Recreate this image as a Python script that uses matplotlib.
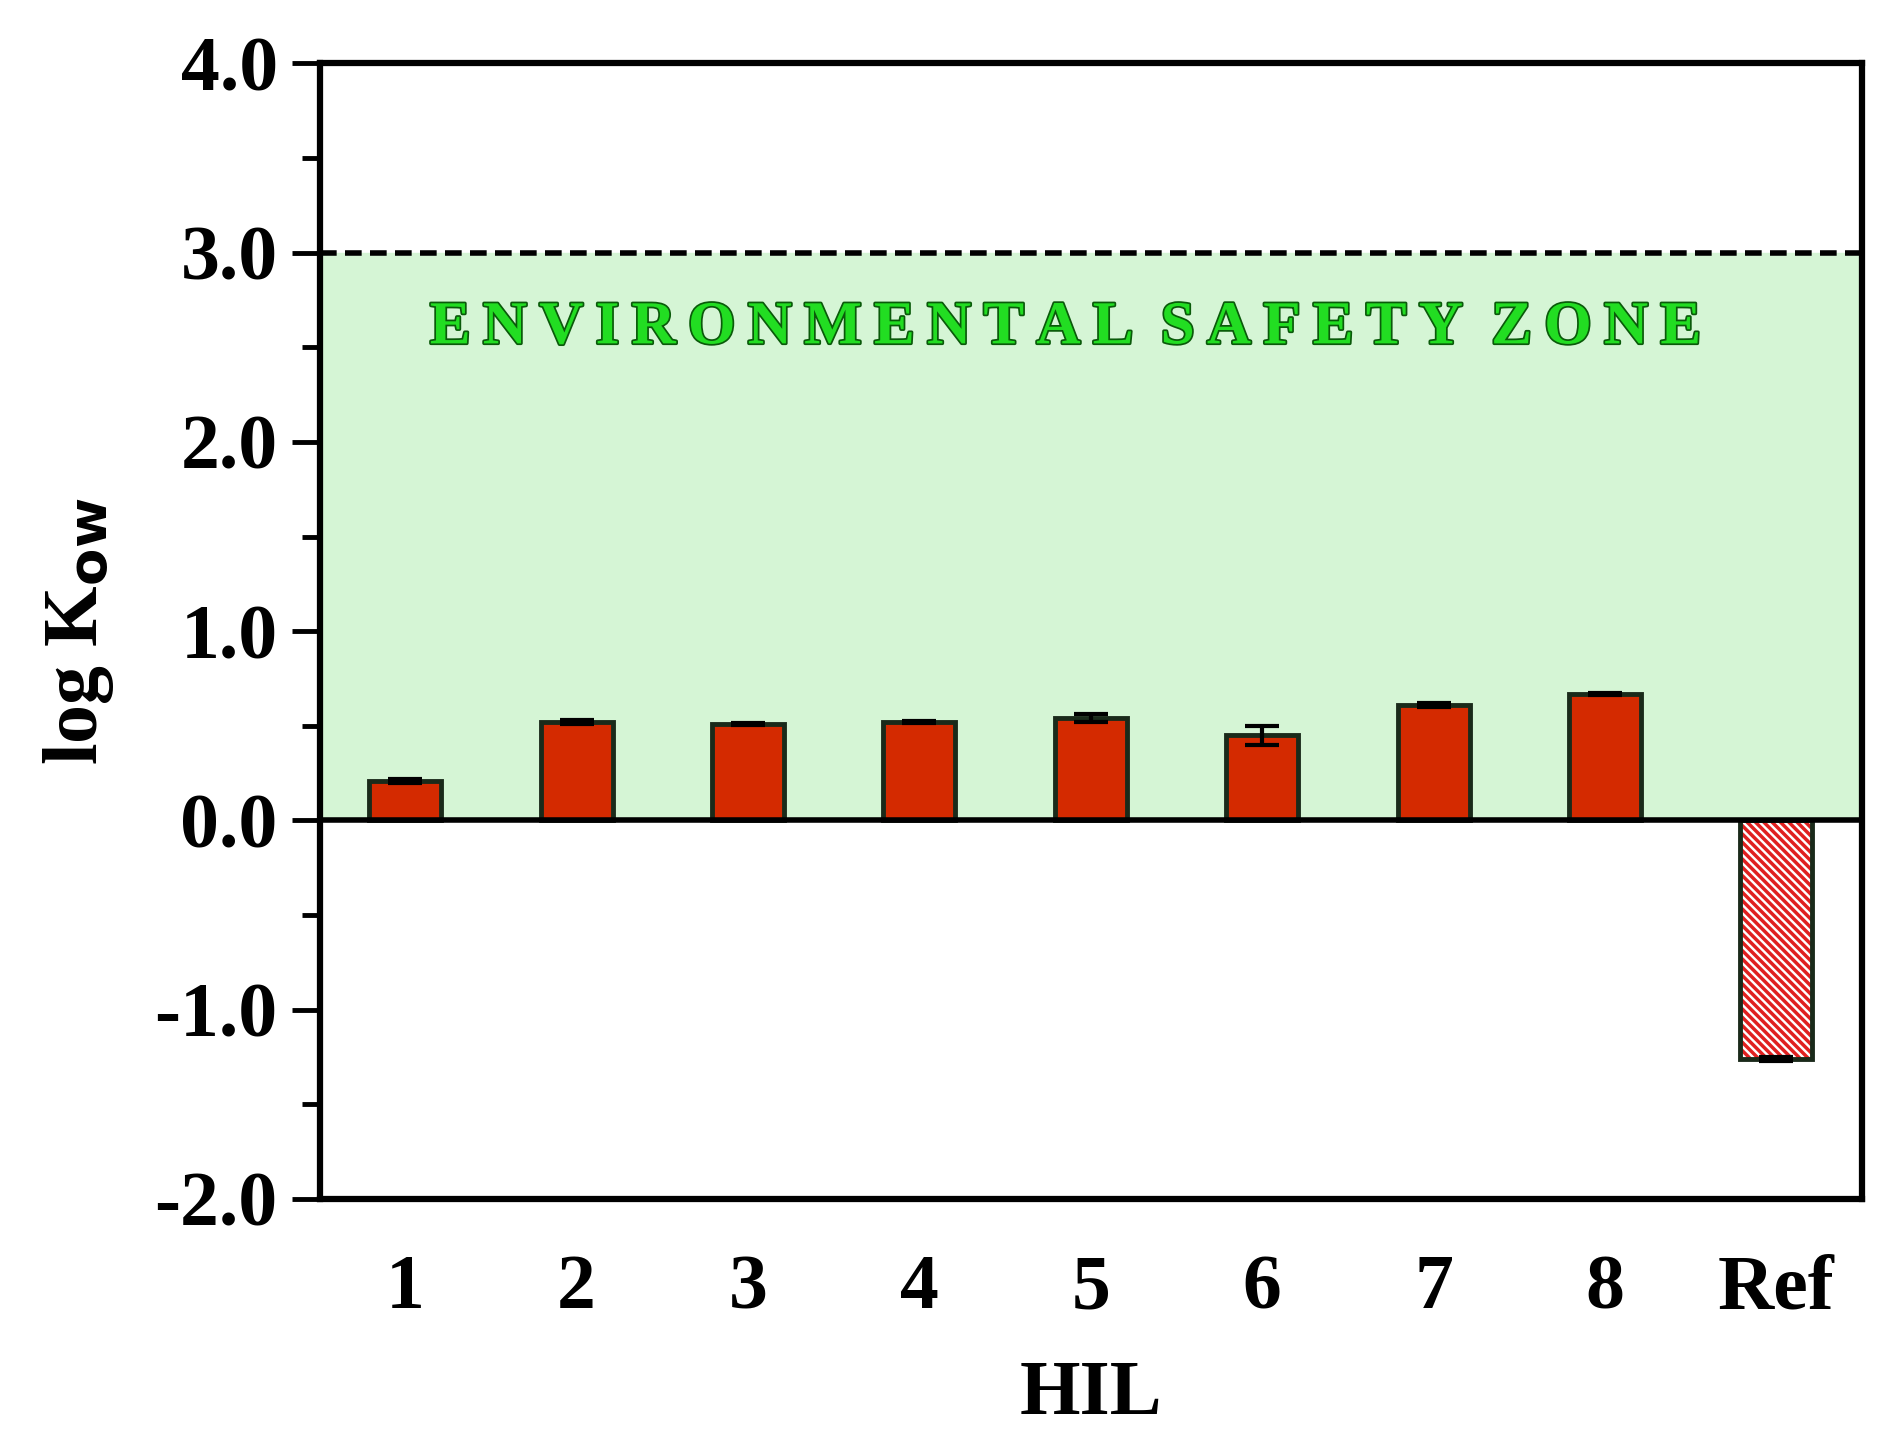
import matplotlib.pyplot as plt
import matplotlib.patheffects as pe
from matplotlib.ticker import MultipleLocator

plt.rcParams['font.family'] = ['Liberation Serif', 'DejaVu Serif']
plt.rcParams['font.weight'] = 'bold'
plt.rcParams['mathtext.default'] = 'regular'
plt.rcParams['hatch.linewidth'] = 2.5

labels = ['1', '2', '3', '4', '5', '6', '7', '8', 'Ref']
values = [0.21, 0.52, 0.51, 0.52, 0.54, 0.45, 0.61, 0.67, -1.26]
errors = [0.01, 0.01, 0.005, 0.005, 0.02, 0.05, 0.01, 0.005, 0.01]

fig = plt.figure(figsize=(19.02, 14.41), dpi=100)
ax = fig.add_axes([0.168, 0.168, 0.811, 0.788])

x = list(range(len(labels)))
ax.axhspan(0, 3, color='#d5f5d5', zorder=0)
ax.axhline(3, color='black', ls='--', lw=4, dashes=(3, 1.5), zorder=1)
ax.axhline(0, color='black', lw=4, zorder=3)

ax.bar(x[:-1], values[:-1], width=0.42, color='#d42a00', edgecolor='#1a2a1a', lw=3.5,
       yerr=errors[:-1], capsize=12, error_kw=dict(lw=3, capthick=3), zorder=2)
# hatched reference bar: hatch drawn in red, then dark outline on top
ax.bar(x[-1], values[-1], width=0.42, color='white', edgecolor='#e02020', lw=0,
       hatch='\\\\\\\\', zorder=2)
ax.bar(x[-1], values[-1], width=0.42, color='none', edgecolor='#1a2a1a', lw=3.5,
       yerr=errors[-1], capsize=12, error_kw=dict(lw=3, capthick=3), zorder=2)

ax.text(3.85, 2.6, 'E N V I R O N M E N T A L   S A F E T Y   Z O N E'.replace(' ', '\u2009').replace('\u2009\u2009\u2009', '  '),
        color='#22dd22', fontsize=44, fontweight='bold', ha='center', va='center',
        path_effects=[pe.withStroke(linewidth=2.5, foreground='#0a5a0a')])

ax.set_xlim(-0.5, 8.5)
ax.set_ylim(-2, 4)
ax.yaxis.set_major_locator(MultipleLocator(1))
ax.yaxis.set_minor_locator(MultipleLocator(0.5))
ax.set_yticks([-2, -1, 0, 1, 2, 3, 4])
ax.set_yticklabels([f'{v:.1f}' for v in [-2, -1, 0, 1, 2, 3, 4]])
ax.set_xticks(x)
ax.set_xticklabels(labels)
ax.tick_params(axis='y', which='major', length=20, width=3.5, labelsize=56, pad=10)
ax.tick_params(axis='y', which='minor', length=13, width=3.5)
ax.tick_params(axis='x', length=0, labelsize=56, pad=40)
for s in ax.spines.values():
    s.set_linewidth(4.5)

ax.set_xlabel('HIL', fontsize=56, fontweight='bold', labelpad=25)
ax.set_ylabel(r'log K$_{\mathbf{ow}}$', fontsize=56, fontweight='bold', labelpad=28)

fig.savefig('out.png', dpi=100)
